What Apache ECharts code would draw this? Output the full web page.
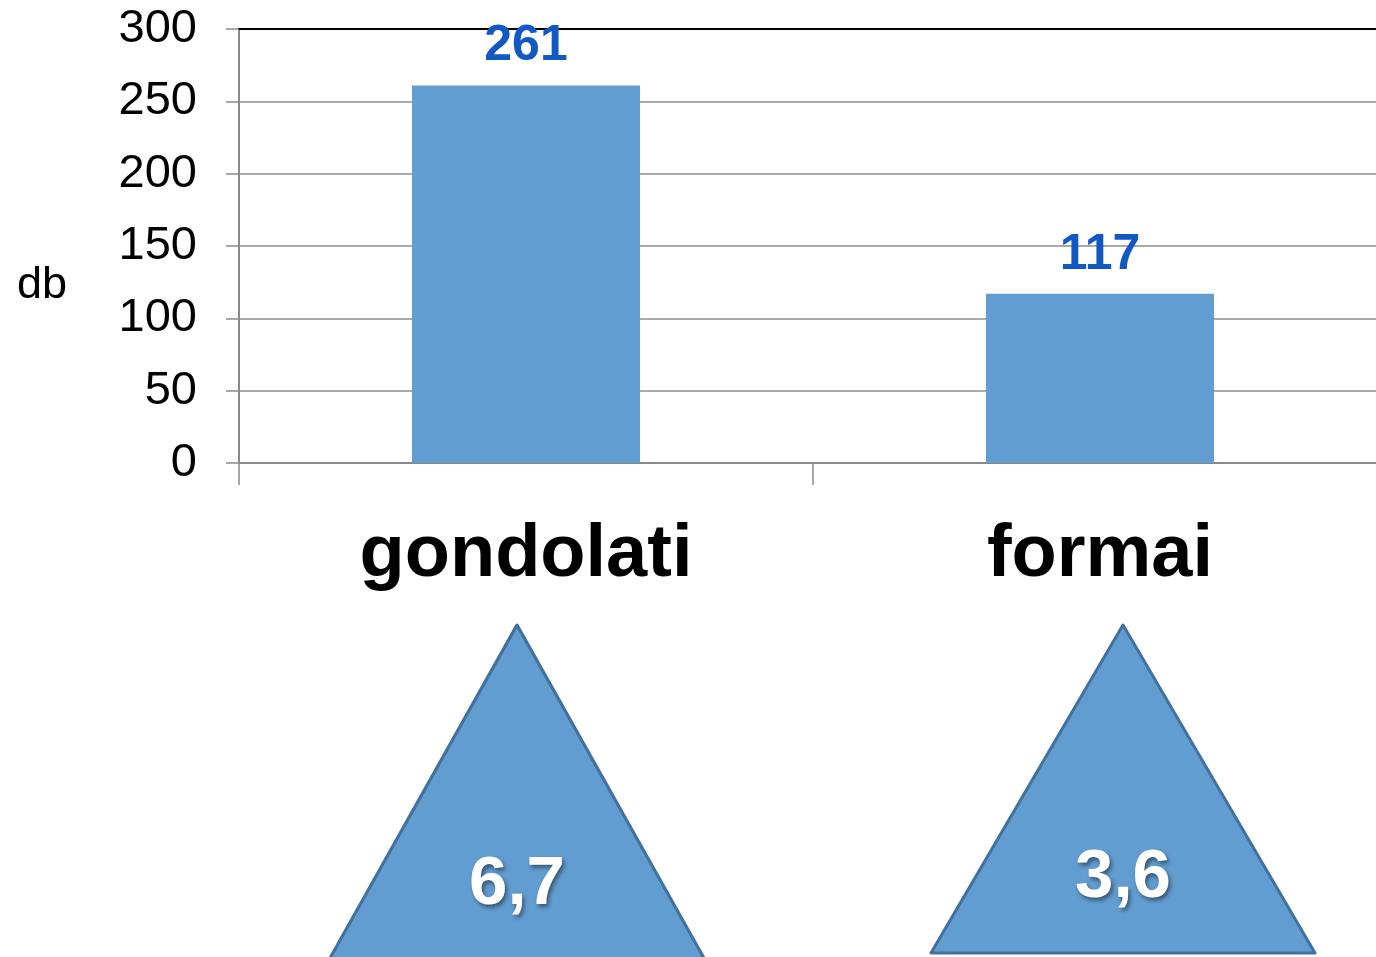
<!DOCTYPE html>
<html>
<head>
<meta charset="utf-8">
<script src="https://cdn.jsdelivr.net/npm/echarts@6/dist/echarts.min.js"></script>
<style>html,body{margin:0;padding:0;background:#fff}#c{width:1376px;height:957px}</style>
</head>
<body>
<div id="c"></div>
<script>
var categories = ['gondolati', 'formai'];
var counts = [261, 117];
var ratios = [6.7, 3.6];
var yTicks = [0, 50, 100, 150, 200, 250, 300];
var yName = 'db';

var FONT = '"Liberation Sans", Arial, sans-serif';
var chart = echarts.init(document.getElementById('c'), null, {renderer: 'canvas'});
var triSizes = [[384, 342], [384, 328]];
var triOffsets = [[-9, 0], [23, -7]];

chart.setOption({
  animation: false,
  title: {
    text: yName, left: 12, top: 258,
    textStyle: {fontFamily: FONT, fontSize: 45, fontWeight: 'normal', color: '#000'}
  },
  grid: [
    {left: 239, top: 29, right: -11, height: 434, containLabel: false, outerBoundsMode: 'none'},
    {left: 239, top: 625, right: -11, height: 342, containLabel: false, outerBoundsMode: 'none'}
  ],
  xAxis: [
    {
      type: 'category', gridIndex: 0, data: categories, position: 'bottom',
      axisLine: {lineStyle: {color: '#898989', width: 2}},
      axisTick: {show: true, length: 22, lineStyle: {color: '#898989', width: 1.5}},
      axisLabel: {margin: 56, fontFamily: FONT, fontSize: 74, fontWeight: 'bold', color: '#000'}
    },
    {
      type: 'category', gridIndex: 0, data: categories, position: 'top',
      axisLine: {lineStyle: {color: '#000', width: 2}},
      axisTick: {show: false}, axisLabel: {show: false}
    },
    {
      type: 'category', gridIndex: 1, data: categories, show: false
    }
  ],
  yAxis: [
    {
      type: 'value', gridIndex: 0, min: yTicks[0], max: yTicks[yTicks.length - 1], interval: 50,
      axisLine: {show: true, lineStyle: {color: '#898989', width: 2}},
      axisTick: {show: true, length: 13, lineStyle: {color: '#898989', width: 1.5}},
      axisLabel: {margin: 42, fontFamily: FONT, fontSize: 47, color: '#000'},
      splitLine: {show: true, lineStyle: {color: '#8e8e8e', width: 1.5}}
    },
    {
      type: 'category', gridIndex: 1, data: ['r'], show: false
    }
  ],
  series: [
    {
      type: 'bar', xAxisIndex: 0, yAxisIndex: 0, data: counts, barWidth: 228,
      itemStyle: {color: '#629DD1'},
      label: {
        show: true, position: 'top', distance: 14,
        fontFamily: FONT, fontSize: 50, fontWeight: 'bold', color: '#1259C3'
      }
    },
    {
      type: 'scatter', xAxisIndex: 2, yAxisIndex: 1,
      symbol: 'triangle',
      data: ratios.map(function (v, i) {
        return {
          value: [i, 0, v],
          symbolSize: triSizes[i],
          symbolOffset: triOffsets[i]
        };
      }),
      itemStyle: {color: '#629DD1', borderColor: '#41719C', borderWidth: 3, borderJoin: 'round', opacity: 1},
      label: {
        show: true, position: 'inside',
        formatter: function (p) { return String(p.value[2]).replace('.', ','); },
        fontFamily: FONT, fontSize: 69, fontWeight: 'bold', color: '#fff',
        textShadowColor: 'rgba(0,0,0,0.45)', textShadowBlur: 4, textShadowOffsetX: 2, textShadowOffsetY: 3,
        offset: [0, 89]
      },
      emphasis: {disabled: true}
    }
  ]
});
</script>
</body>
</html>
